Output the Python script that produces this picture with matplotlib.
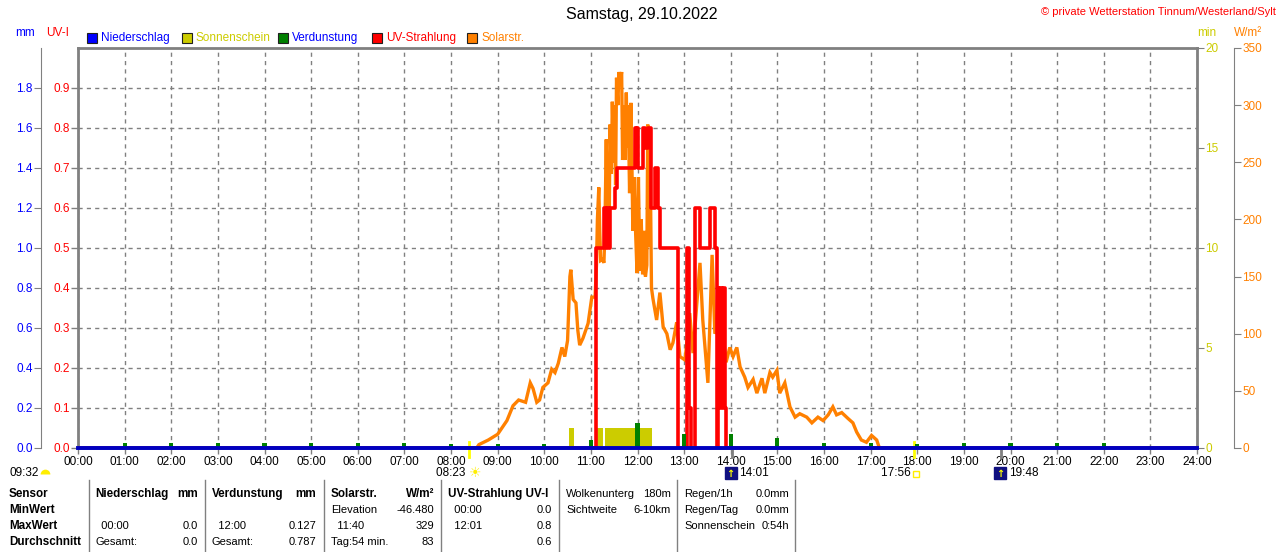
import numpy as np
import matplotlib.pyplot as plt
from matplotlib.patches import Rectangle
from matplotlib.transforms import blended_transform_factory

plt.rcParams['font.family'] = ['Liberation Sans', 'DejaVu Sans']

# ---- data ----
hours = np.arange(0, 25)
hour_labels = ['%02d:00' % h for h in hours]

solar_t = [8.55, 8.6, 8.8, 9.0, 9.1, 9.2, 9.33, 9.45, 9.6, 9.7, 9.76, 9.84, 9.9,
           9.97, 10.08, 10.16, 10.23, 10.3, 10.38, 10.44, 10.5, 10.55, 10.57,
           10.62, 10.68, 10.72, 10.76, 10.83, 10.94, 11.02, 11.09,
           11.12, 11.14, 11.17, 11.19, 11.21, 11.25, 11.28, 11.30, 11.33, 11.35,
           11.37, 11.39, 11.41, 11.44, 11.46, 11.49, 11.51, 11.53, 11.55, 11.58,
           11.6, 11.63, 11.66, 11.68, 11.71, 11.73, 11.76, 11.78, 11.8, 11.83,
           11.86, 11.88, 11.9, 11.93, 11.96, 11.99, 12.02, 12.05, 12.08, 12.11,
           12.14, 12.17, 12.2, 12.22, 12.25, 12.27, 12.3, 12.33,
           12.41, 12.48, 12.55, 12.63,
           12.7, 12.76, 12.84, 12.91, 13.02, 13.12, 13.19, 13.34, 13.4, 13.51,
           13.6, 13.66, 13.8, 13.9, 13.98, 14.05, 14.13, 14.2, 14.3, 14.37,
           14.48, 14.56, 14.67, 14.73, 14.84, 14.9, 14.99, 15.05, 15.16, 15.27,
           15.38, 15.48, 15.63, 15.74, 15.87, 15.98, 16.09, 16.19, 16.27, 16.38,
           16.51, 16.62, 16.7, 16.8, 16.91, 17.02, 17.13, 17.18]
solar_v = [0, 3, 7, 12, 18, 24, 37, 42, 40, 57, 52, 40, 42,
           53, 57, 69, 66, 74, 88, 80, 94, 150, 156,
           130, 127, 103, 90, 96, 109, 132, 132,
           160, 200, 228, 190, 164, 165, 162, 188, 270, 200,
           240, 180, 283, 240, 303, 250, 300, 230, 324, 300,
           329, 320, 329, 252, 300, 252, 311, 263, 300, 223,
           302, 250, 190, 237, 188, 153, 237, 155, 200, 152,
           190, 150, 160, 283, 176, 260, 140, 131,
           112, 136, 106, 100,
           86, 92, 110, 80, 77, 118, 83, 162, 112, 57,
           169, 100, 112, 75, 88, 80, 88, 71, 62, 53,
           60, 48, 61, 48, 66, 62, 68, 48, 57, 36,
           27, 30, 27, 22, 27, 24, 29, 36, 29, 31,
           26, 22, 14, 7, 5, 11, 7, 1]

uv_t = [0, 11.12, 11.29, 11.32, 11.35, 11.38, 11.41, 11.52, 11.55, 11.94,
        11.97, 11.99, 12.01, 12.12, 12.17, 12.22, 12.28, 12.38, 12.44, 12.49,
        12.87, 13.07, 13.11, 13.14, 13.24, 13.34, 13.55, 13.66, 13.7, 13.72,
        13.75, 13.78, 13.81, 13.84, 13.87, 13.9, 24]
uv_v = [0, 0.5, 0.6, 0.5, 0.6, 0.5, 0.6, 0.65, 0.7, 0.8,
        0.75, 0.8, 0.7, 0.8, 0.75, 0.8, 0.6, 0.7, 0.6, 0.5,
        0.0, 0.5, 0.1, 0.0, 0.6, 0.5, 0.6, 0.5, 0.0, 0.4,
        0.1, 0.4, 0.1, 0.4, 0.1, 0.0, 0.0]

sun_start = [10.53, 11.13, 11.31]
sun_end = [10.64, 11.25, 12.32]
sun_min = [1.0, 1.0, 1.0]

evap_h = list(range(1, 23))
evap_mm = [0.025, 0.025, 0.025, 0.025, 0.025, 0.025, 0.025, 0.02, 0.02, 0.02,
           0.04, 0.127, 0.07, 0.07, 0.05, 0.025, 0.025, 0.02, 0.025, 0.025,
           0.025, 0.025]

rain_t = [0, 24]
rain_mm = [0.0, 0.0]

mm_ticks = np.arange(0, 1.81, 0.2)
uv_ticks = np.arange(0, 0.91, 0.1)
min_ticks = [0, 5, 10, 15, 20]
w_ticks = [0, 50, 100, 150, 200, 250, 300, 350]

legend_names = ['Niederschlag', 'Sonnenschein', 'Verdunstung', 'UV-Strahlung', 'Solarstr.']
legend_box = ['#0000ff', '#cccc00', '#008000', '#ff0000', '#ff8000']
legend_text = ['#0000ff', '#cccc00', '#0000ff', '#ff0000', '#ff8000']

sunrise, sunset = 8.383, 17.933
moon_a, moon_b = 14.017, 19.8

tab_first = ['Sensor', 'MinWert', 'MaxWert', 'Durchschnitt']
tab_cols = [
    [('Niederschlag', 'mm'), ('', ''), ('  00:00', '0.0'), ('Gesamt:', '0.0')],
    [('Verdunstung', 'mm'), ('', ''), ('  12:00', '0.127'), ('Gesamt:', '0.787')],
    [('Solarstr.', 'W/m²'), ('Elevation', '-46.480'), ('  11:40', '329'), ('Tag:54 min.', '83')],
    [('UV-Strahlung UV-I', ''), ('  00:00', '0.0'), ('  12:01', '0.8'), ('', '0.6')],
]
tab_extra = [
    [('Wolkenunterg', '180m'), ('Sichtweite', '6-10km')],
    [('Regen/1h', '0.0mm'), ('Regen/Tag', '0.0mm'), ('Sonnenschein', '0:54h')],
]

# ---- figure ----
W, H = 1280, 552
fig = plt.figure(figsize=(W / 100, H / 100), dpi=100)
fig.patch.set_facecolor('white')


def fx(x):
    return x / W


def fy(y):
    return 1 - y / H


GRAY = '#808080'
L, R, T, B = 78, 1197, 48, 448
rect = [fx(L), fy(B), (R - L) / W, (B - T) / H]

ax = fig.add_axes(rect)
ax.set_xlim(0, 24)
ax.set_ylim(0, 1)
ax.set_xticks(hours)
ax.set_xticklabels(hour_labels)
ax.set_yticks(uv_ticks)
ax.set_yticklabels(['%.1f' % v for v in uv_ticks])
ax.tick_params(axis='x', length=4, color=GRAY, labelsize=8.5, pad=2, width=1)
ax.tick_params(axis='y', length=5, color=GRAY, labelcolor='#ff0000', labelsize=8.5, pad=1, width=1)
ax.grid(True, color=GRAY, linestyle=(0, (3, 3)), linewidth=1)
for s in ax.spines.values():
    s.set_color(GRAY)
    s.set_linewidth(2)
ax.set_axisbelow(True)

ax_min = ax.twinx()
ax_min.set_ylim(0, 20)
ax_min.set_yticks(min_ticks)
ax_min.tick_params(axis='y', length=5, color=GRAY, labelcolor='#cccc00', labelsize=8.5, pad=1)
for s in ax_min.spines.values():
    s.set_visible(False)
ax_min.bar(sun_start, sun_min, width=np.array(sun_end) - np.array(sun_start),
           align='edge', color='#cccc00', linewidth=0)

ax_w = ax.twinx()
ax_w.set_ylim(0, 350)
ax_w.set_yticks(w_ticks)
ax_w.tick_params(axis='y', length=5, color=GRAY, labelcolor='#ff8000', labelsize=8.5, pad=1)
for k, s in ax_w.spines.items():
    s.set_visible(k == 'right')
ax_w.spines['right'].set_position(('axes', (1234 - L) / (R - L)))
ax_w.spines['right'].set_color(GRAY)
ax_w.plot(solar_t, solar_v, color='#ff8000', linewidth=2.4, solid_joinstyle='miter')

ax_uv = ax.twinx()
ax_uv.set_ylim(0, 1)
ax_uv.set_yticks([])
for s in ax_uv.spines.values():
    s.set_visible(False)
ax_uv.plot(uv_t, uv_v, color='#ff0000', linewidth=2.6, drawstyle='steps-post')

ax_mm = ax.twinx()
ax_mm.set_ylim(0, 2)
ax_mm.yaxis.tick_left()
ax_mm.set_yticks(mm_ticks)
ax_mm.set_yticklabels(['%.1f' % v for v in mm_ticks])
ax_mm.tick_params(axis='y', length=5, color=GRAY, labelcolor='#0000ff', labelsize=8.5, pad=1)
for k, s in ax_mm.spines.items():
    s.set_visible(k == 'left')
ax_mm.spines['left'].set_position(('axes', (41 - L) / (R - L)))
ax_mm.spines['left'].set_color(GRAY)
ax_mm.bar(evap_h, evap_mm, width=0.09, color='#008000', linewidth=0)
ax_mm.plot(rain_t, rain_mm, color='#0000c0', linewidth=2.8, clip_on=False)

# ---- texts around the plot ----
fig.text(0.5 + 2 / W, fy(15), 'Samstag, 29.10.2022', ha='center', va='center', fontsize=11.5)
fig.text(fx(1276), fy(12), '© private Wetterstation Tinnum/Westerland/Sylt',
         ha='right', va='center', fontsize=8, color='#ff0000')
fig.text(fx(15), fy(33), 'mm', color='#0000ff', fontsize=8.5, va='center')
fig.text(fx(46), fy(33), 'UV-I', color='#ff0000', fontsize=8.5, va='center')
fig.text(fx(1197), fy(33), 'min', color='#cccc00', fontsize=8.5, va='center')
fig.text(fx(1234), fy(33), 'W/m²', color='#ff8000', fontsize=8.5, va='center')

leg_x = [87, 182, 278, 372, 467]
for x, name, bc, tc in zip(leg_x, legend_names, legend_box, legend_text):
    fig.patches.append(Rectangle((fx(x), fy(43)), 10 / W, 10 / H, transform=fig.transFigure,
                                 facecolor=bc, edgecolor='#202020', linewidth=0.8))
    fig.text(fx(x + 14), fy(38), name, color=tc, fontsize=8.5, va='center')

# sun / moon markers under the time axis
tr = blended_transform_factory(ax.transData, fig.transFigure)
for t, c in [(sunrise, '#ffff00'), (sunset, '#ffff00'), (moon_a, GRAY), (moon_b, GRAY)]:
    ax.plot([t, t], [fy(442) if c != GRAY else fy(448), fy(457)], color=c,
            linewidth=2, transform=tr, clip_on=False)
ax.text(sunrise, fy(473), '08:23 ', transform=tr, ha='right', va='center', fontsize=8.5)
ax.text(sunrise, fy(473), '☀', transform=tr, ha='left', va='center', fontsize=10,
        color='#ffee00', family='DejaVu Sans')
ax.text(sunset, fy(473), '17:56 ', transform=tr, ha='right', va='center', fontsize=8.5)
ax.plot([sunset + 0.05], [fy(474)], transform=tr, marker='s', markersize=4,
        markerfacecolor='white', markeredgecolor='#ffee00', clip_on=False)
for t, lab in [(moon_a, '14:01'), (moon_b, '19:48')]:
    ax.plot([t - 0.02], [fy(473)], transform=tr, marker='s', markersize=8,
            color='#101080', clip_on=False)
    ax.text(t - 0.02, fy(474), '↑', transform=tr, ha='center', va='center', fontsize=7,
            color='#ffff00', family='DejaVu Sans', fontweight='bold')
    ax.text(t + 0.17, fy(473), lab, transform=tr, ha='left', va='center', fontsize=8.5)
fig.text(fx(10), fy(473), '09:32', ha='left', va='center', fontsize=8.5)
fig.lines.append(plt.Line2D([fx(45)], [fy(474)], transform=fig.transFigure, marker='o',
                            markersize=7, fillstyle='top', markerfacecolor='#ffee00',
                            markerfacecoloralt='none', markeredgewidth=0))

# ---- table ----
seps = [89, 205, 324, 441, 559, 677, 795]
for x in seps:
    fig.lines.append(plt.Line2D([fx(x), fx(x)], [fy(480), fy(552)],
                                transform=fig.transFigure, color=GRAY, linewidth=1))
row_y = [494, 510, 526, 542]
for y, s in zip(row_y, tab_first):
    fig.text(fx(9), fy(y), s, fontweight='bold', fontsize=8.4, va='center')
col_l = [95, 212, 331, 448]
col_r = [198, 316, 434, 552]
for xl, xr, col in zip(col_l, col_r, tab_cols):
    for i, ((a, b), y) in enumerate(zip(col, row_y)):
        bold = 'bold' if i == 0 else 'normal'
        size = 8.4 if i == 0 else 8
        fig.text(fx(xl), fy(y), a, fontweight=bold, fontsize=size, va='center')
        fig.text(fx(xr), fy(y), b, fontweight=bold, fontsize=size, va='center', ha='right')
for xl, xr, col in zip([566, 684], [671, 789], tab_extra):
    for (a, b), y in zip(col, row_y):
        fig.text(fx(xl), fy(y), a, fontsize=8, va='center')
        fig.text(fx(xr), fy(y), b, fontsize=8, va='center', ha='right')

fig.savefig('out.png', dpi=100, facecolor='white')
